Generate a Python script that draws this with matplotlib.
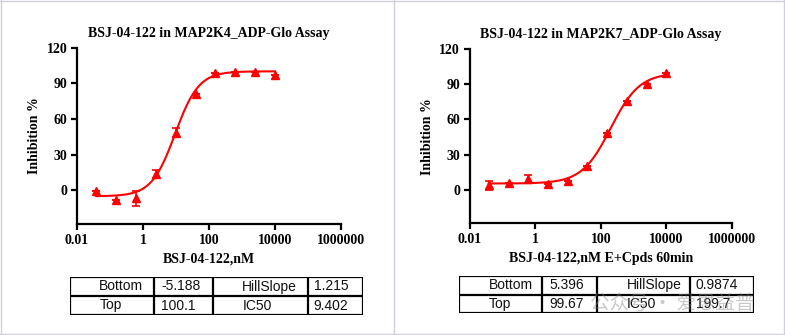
import numpy as np
import matplotlib.pyplot as plt
from matplotlib.lines import Line2D

plt.rcParams['font.family'] = ['Liberation Serif', 'DejaVu Sans']

# concentrations (nM), 4-fold dilution series
conc = [0.038, 0.153, 0.61, 2.44, 9.77, 39.1, 156.3, 625, 2500, 10000]

# MAP2K4 panel
mk4_inh = [-0.6, -8.4, -7.0, 13.5, 48.5, 81.0, 99.0, 99.5, 99.8, 97.0]
mk4_err = [0, 0, 6.5, 3.5, 4.0, 0, 0, 0, 0, 0]
mk4_fit = {'Bottom': -5.188, 'Top': 100.1, 'HillSlope': 1.215, 'IC50': 9.402}
mk4_tab = [['Bottom', '-5.188', 'HillSlope', '1.215'],
           ['Top', '100.1', 'IC50', '9.402']]

# MAP2K7 panel
mk7_inh = [3.8, 6.2, 9.0, 5.1, 7.7, 20.7, 48.2, 75.7, 90.2, 99.3]
mk7_err = [4.0, 0, 3.5, 0, 0, 0, 0, 0, 0, 0]
mk7_fit = {'Bottom': 5.396, 'Top': 99.67, 'HillSlope': 0.9874, 'IC50': 199.7}
mk7_tab = [['Bottom', '5.396', 'HillSlope', '0.9874'],
           ['Top', '99.67', 'IC50', '199.7']]

W, H = 785, 335
fig = plt.figure(figsize=(W / 100, H / 100), dpi=100)


def px(l, t, r, b):
    # pixel box -> figure fraction
    return [l / W, 1 - b / H, (r - l) / W, (b - t) / H]


def four_pl(x, p):
    return p['Bottom'] + (p['Top'] - p['Bottom']) / (
        1 + 10 ** ((np.log10(p['IC50']) - np.log10(x)) * p['HillSlope']))


def panel(box, tbox, colw, offs, title, xlabel, inh, err, fit, tab):
    ax = fig.add_axes(px(*box))
    xs = np.logspace(np.log10(conc[0]), np.log10(conc[-1]), 300)
    ax.plot(xs, four_pl(xs, fit), color='#ff0000', lw=1.5, zorder=2)
    ax.errorbar(conc, inh, yerr=err, fmt='^', color='#ff0000', ms=6,
                elinewidth=1.2, capsize=3, capthick=1.2, zorder=3)
    ax.set_xscale('log')
    ax.set_xlim(0.01, 1e6)
    ax.set_ylim(-28.5, 120)
    ax.set_xticks([0.01, 1, 100, 10000, 1000000])
    ax.set_xticklabels(['0.01', '1', '100', '10000', '1000000'])
    ax.xaxis.set_minor_locator(plt.NullLocator())
    ax.set_yticks([0, 30, 60, 90, 120])
    for s in ['top', 'right']:
        ax.spines[s].set_visible(False)
    for s in ['left', 'bottom']:
        ax.spines[s].set_linewidth(1.6)
    ax.tick_params(width=1.6, length=4, labelsize=10, pad=3)
    for lab in ax.get_xticklabels() + ax.get_yticklabels():
        lab.set_fontweight('bold')
    ax.set_title(title, fontsize=10, fontweight='bold', pad=8)
    ax.set_xlabel(xlabel, fontsize=10, fontweight='bold', labelpad=4)
    ax.set_ylabel('Inhibition %', fontsize=10, fontweight='bold', labelpad=4)

    # parameter table
    tx = fig.add_axes(px(*tbox))
    tx.set_xlim(0, 1)
    tx.set_ylim(0, 1)
    tx.axis('off')
    edges = np.concatenate([[0], np.cumsum(colw)])
    edges = edges / edges[-1]
    for e in edges:
        tx.axvline(e, color='black', lw=1.6)
    for yy in [0, 0.5, 1]:
        tx.axhline(yy, color='black', lw=1.6)
    for r, row in enumerate(tab):
        for c, txt in enumerate(row):
            tx.text(edges[c] + offs[c], 0.75 - 0.5 * r, txt, ha='left', va='center',
                    fontsize=10, family=['Liberation Sans', 'DejaVu Sans'], color='#111111')


panel((77, 47.7, 341, 224), (70, 277, 363, 315), [84, 59, 95, 55],
      [0.1, 0.025, 0.1, 0.02],
      'BSJ-04-122 in MAP2K4_ADP-Glo Assay', 'BSJ-04-122,nM',
      mk4_inh, mk4_err, mk4_fit, mk4_tab)
panel((469.7, 49, 732, 223.3), (459, 276, 754, 313), [83, 55, 92, 64],
      [0.1, 0.025, 0.1, 0.02],
      'BSJ-04-122 in MAP2K7_ADP-Glo Assay', 'BSJ-04-122,nM E+Cpds 60min',
      mk7_inh, mk7_err, mk7_fit, mk7_tab)

# panel frames
fc = '#cfcfdf'
for xx in [1, 394, 784]:
    fig.add_artist(Line2D([xx / W, xx / W], [0, 1], color=fc, lw=1))
for yy in [1, 334]:
    fig.add_artist(Line2D([0, 1], [1 - yy / H, 1 - yy / H], color=fc, lw=1))

# watermark
fig.text(590 / W, 1 - 303 / H, '公众号 · 爱思益普', fontsize=14, color='#888888', alpha=0.45,
         va='center', ha='left', family=['Noto Sans CJK SC', 'DejaVu Sans'], zorder=10)

fig.savefig('out.png', dpi=100)
